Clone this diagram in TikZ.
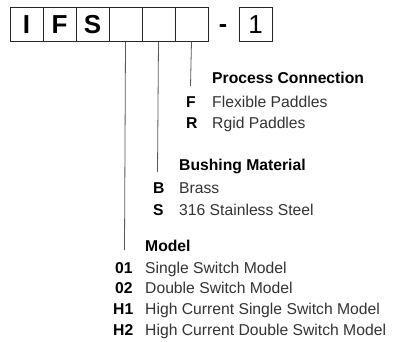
\documentclass[tikz,border=0pt]{standalone}
\usepackage{fontspec}
\setmainfont{Liberation Sans}
\usepackage{tikz}
\usetikzlibrary{positioning}

\begin{document}
\begin{tikzpicture}[x=1pt,y=-1pt,
  digit/.style={draw=black!85,line width=.9pt,minimum width=33pt,minimum height=34pt,inner sep=0pt,outer sep=0pt,font=\fontsize{26}{26}\selectfont\bfseries},
  lead/.style={draw=black!65,line width=.8pt},
  head/.style={anchor=base west,inner sep=0pt,font=\fontsize{15.7}{18}\selectfont\bfseries},
  code/.style={anchor=base west,inner sep=0pt,font=\fontsize{15.7}{18}\selectfont\bfseries},
  desc/.style={anchor=base west,inner sep=0pt,text=black!80,font=\fontsize{15.7}{18}\selectfont}]
\useasboundingbox (0,0) rectangle (394,341);
% part number boxes
\node[digit] (b1) at (26.5,24.5) {I};
\node[digit,right=0pt of b1] (b2) {F};
\node[digit,right=0pt of b2] (b3) {S};
\node[digit,right=0pt of b3] (b4) {};
\node[digit,right=0pt of b4] (b5) {};
\node[digit,right=0pt of b5] (b6) {};
\node[anchor=base,inner sep=0pt,font=\fontsize{25}{25}\selectfont\bfseries] (dash) at (223,32.5) {-};
\node[digit,font=\fontsize{26}{26}\selectfont] (b7) at (255.5,24.5) {1};
% leaders
\coordinate (e6) at (190.5,86);
\coordinate (e5) at (157.5,172);
\coordinate (e4) at (124.5,250);
\draw[lead] (b6.south) -- (e6);
\draw[lead] (b5.south) -- (e5);
\draw[lead] (b4.south) -- (e4);
% process connection
\node[head] (pc) at (212,83.5) {Process Connection};
\node[code] (cF) at (186,107.5) {F};
\node[desc] (dF) at (212,107.5) {Flexible Paddles};
\node[code] (cR) at (186,128.5) {R};
\node[desc] (dR) at (212,128.5) {Rgid Paddles};
% bushing material
\node[head] (bm) at (179,170.5) {Bushing Material};
\node[code] (cB) at (153,193.5) {B};
\node[desc] (dB) at (179,193.5) {Brass};
\node[code] (cS) at (153,215.5) {S};
\node[desc] (dS) at (179,215.5) {316 Stainless Steel};
% model
\node[head] (md) at (145,251.5) {Model};
\node[code] (c01) at (115,273.5) {01};
\node[desc] (d01) at (145,273.5) {Single Switch Model};
\node[code] (c02) at (115,293.5) {02};
\node[desc] (d02) at (145,293.5) {Double Switch Model};
\node[code] (cH1) at (113,314.5) {H1};
\node[desc] (dH1) at (145,314.5) {High Current Single Switch Model};
\node[code] (cH2) at (113,335.5) {H2};
\node[desc] (dH2) at (145,335.5) {High Current Double Switch Model};
\end{tikzpicture}
\end{document}
